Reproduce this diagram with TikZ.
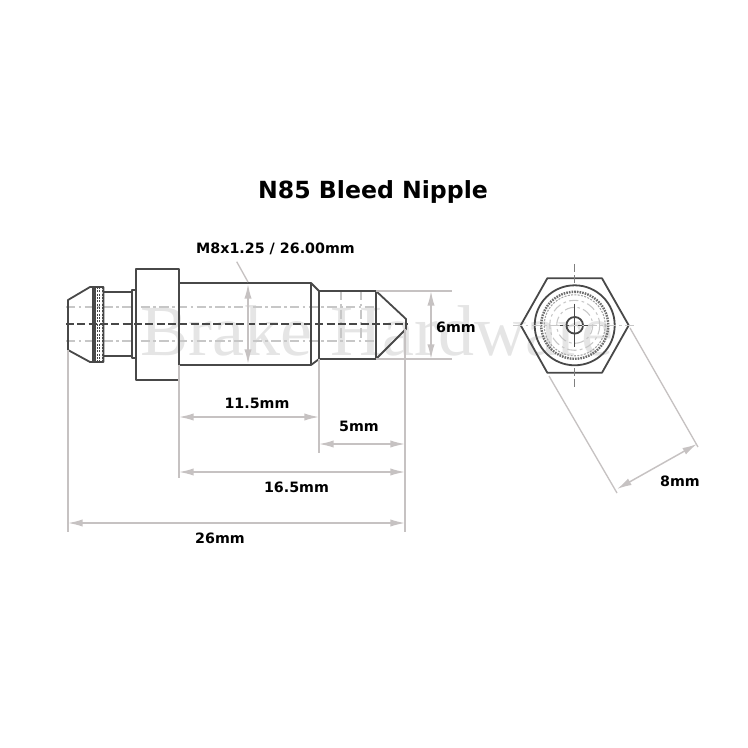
\documentclass[tikz,border=0pt]{standalone}
\usepackage{fontspec}
\setmainfont{DejaVu Sans}
\newfontfamily\markfont{Liberation Serif}
\usetikzlibrary{arrows.meta}
\definecolor{dimgray}{HTML}{C6C2C2}
\definecolor{partgray}{HTML}{484848}
\tikzset{
  part/.style={draw=partgray, line width=1.35pt, line join=round},
  thin part/.style={draw=partgray, line width=0.7pt},
  center line/.style={draw=partgray, line width=1pt, dash pattern=on 6pt off 2.5pt},
  faint line/.style={draw=black!22, line width=0.8pt, dash pattern=on 7pt off 2.5pt on 2pt off 2.5pt},
  ext line/.style={draw=dimgray, line width=1pt},
  dim line/.style={draw=dimgray, line width=1.1pt, {Latex[length=11pt,width=5.5pt]}-{Latex[length=11pt,width=5.5pt]}},
  dim label/.style={font=\bfseries\fontsize{10.7}{12}\selectfont, text=black, inner sep=0pt}
}
\begin{document}
\begin{tikzpicture}[x=0.75pt,y=-0.75pt]
\useasboundingbox (0,0) rectangle (748,748);

\node (watermark) [anchor=base, inner sep=0pt, text=black!10, font=\markfont\fontsize{54}{60}\selectfont] at (377,355) {Brake Hardware};
\node (title) [font=\bfseries\fontsize{17.7}{22}\selectfont, inner sep=0pt] at (373,191.5) {N85 Bleed Nipple};

%faint thread lines
\draw [faint line] (66,307) -- (376,307);
\draw [faint line] (66,341) -- (376,341);
\draw [faint line] (341,291) -- (341,341);
\draw [faint line] (361,291) -- (361,341);

%side view
\draw [part] (68,300) -- (90,287) -- (103.5,287) -- (103.5,362) -- (90,362) -- (68,350) -- cycle;
\fill [color=partgray] (91.5,287) rectangle (95.5,362);
\foreach \xpos in {97,99.5,102}
  \draw [thin part, dash pattern=on 1.5pt off 1pt] (\xpos,287) -- (\xpos,362);
\draw [part] (103.5,292) -- (132,292);
\draw [part] (103.5,356) -- (132,356);
\draw [part] (132,290) rectangle (136,358);
\draw [part] (136,269) rectangle (179,380);
\draw [part] (179,283) -- (311,283) -- (319,291) -- (376,291) -- (406,319) -- (406,329) -- (376,359) -- (319,359) -- (311,365) -- (179,365);
\draw [part] (311,283) -- (311,365);
\draw [part] (319,291) -- (319,359);
\draw [part] (376,291) -- (376,359);
\draw [center line] (66,324) -- (408,324);

%end view
\draw [part] (520.7,325.3) -- (547.3,278.3) -- (602,278.3) -- (628.7,325.3) -- (602,372.7) -- (547.3,372.7) -- cycle;
\draw [part] (574.7,325.3) circle (40);
\draw [draw=partgray!80, line width=1.8pt, dash pattern=on 1.2pt off 0.8pt] (574.7,325.3) circle (33.5);
\draw [draw=partgray!50, line width=0.8pt, dash pattern=on 1.5pt off 1pt] (574.7,325.3) circle (30.5);
\draw [faint line] (574.7,325.3) circle (25);
\draw [faint line] (574.7,325.3) circle (18);
\draw [part] (574.7,325.3) circle (8.3);
\draw [thin part] (553,325.3) -- (596.5,325.3);
\draw [thin part] (574.7,303.5) -- (574.7,347);
\draw [faint line] (513,325.3) -- (637,325.3);
\draw [center line, draw=partgray!70] (574.7,264) -- (574.7,283);
\draw [center line, draw=partgray!70] (574.7,368) -- (574.7,387);

%extension lines
\draw [ext line] (68,350) -- (68,532);
\draw [ext line] (179,365) -- (179,478);
\draw [ext line] (319,359) -- (319,453);
\draw [ext line] (405,329) -- (405,532);
\draw [ext line] (376,291) -- (452,291);
\draw [ext line] (376,359) -- (452,359);
\draw [ext line] (630,328) -- (698,447);
\draw [ext line] (549,376) -- (617,493);
\draw [ext line] (236.7,261.7) -- (248,282);

%dimensions
\coordinate (threadtop) at (248,284);
\coordinate (threadbot) at (248,364);
\coordinate (pilottop) at (431,291);
\coordinate (pilotbot) at (431,359);
\coordinate (hexa) at (617,489);
\coordinate (hexb) at (697,444);
\draw [dim line] (threadtop) -- (threadbot);
\draw [dim line] (pilottop) -- (pilotbot);
\draw [dim line] (hexa) -- (hexb);
\draw [dim line] (179,417) -- (319,417);
\draw [dim line] (319,444) -- (405,444);
\draw [dim line] (179,472) -- (405,472);
\draw [dim line] (68,523) -- (405,523);

\node (threadlabel) [dim label] at (275.5,249) {M8x1.25 / 26.00mm};
\node (pilotlabel) [dim label] at (456,327) {6mm};
\node (bodylabel) [dim label] at (257,403) {11.5mm};
\node (tiplabel) [dim label] at (359,426) {5mm};
\node (lengthlabel) [dim label] at (296.5,487) {16.5mm};
\node (totallabel) [dim label] at (220,538) {26mm};
\node (hexlabel) [dim label] at (680,481) {8mm};

\end{tikzpicture}
\end{document}
